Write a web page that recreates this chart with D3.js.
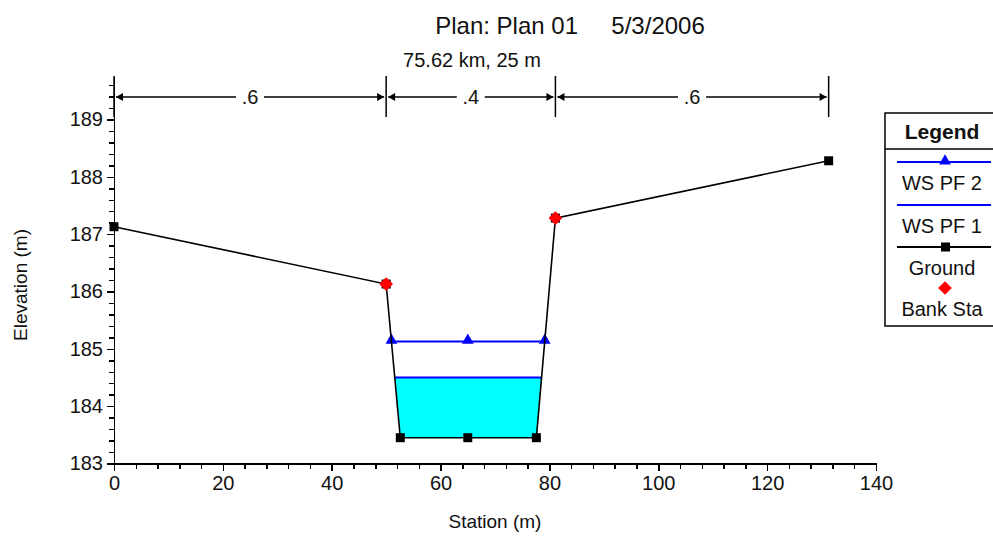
<!DOCTYPE html>
<meta charset="utf-8">
<style>
 body { margin: 0; background: #fff; }
 svg { display: block; font-family: "Liberation Sans", Arial, sans-serif; }
 .axis path, .axis line { fill: none; stroke: #000; stroke-width: 1.5; shape-rendering: crispEdges; }
 .axis text { font-size: 20px; fill: #111; }
 .axis-label { font-size: 19px; fill: #111; }
 .leg text { font-size: 20px; fill: #111; }
</style>
<body>
<svg width="993" height="541"></svg>
<script src="https://d3js.org/d3.v7.min.js"></script>
<script>

 // ground profile
 var groundSta  = [0, 50, 52.6, 65, 77.6, 81.1, 131.3];
 var groundElev = [187.13, 186.13, 183.45, 183.45, 183.45, 187.28, 188.28];
 var bankSta    = [50, 81.1];
 // water surfaces
 var wsNames = ["WS PF 2", "WS PF 1"];
 var wsElev  = [185.13, 184.50];
 var wsMarkSta = [65];
 // reach lengths shown above plot
 var reachLabels = [".6", ".4", ".6"];
 var xTicks = [0, 20, 40, 60, 80, 100, 120, 140];
 var yTicks = [183, 184, 185, 186, 187, 188, 189];

 var svg = d3.select("svg");

 var x = d3.scaleLinear().domain([0, 140]).range([114, 876]);
 var y = d3.scaleLinear().domain([183, 189.75]).range([463.5, 76.5]);

 var ground = groundSta.map(function(s, i) { return {sta: s, elev: groundElev[i]}; });

 function groundAt(s) {
     for (var i = 0; i < ground.length - 1; i++) {
         var a = ground[i], b = ground[i + 1];
         if (s >= a.sta && s <= b.sta) return a.elev + (b.elev - a.elev) * (s - a.sta) / (b.sta - a.sta);
     }
 }
 // where a water surface crosses the channel walls
 function crossings(e) {
     var out = [];
     for (var i = 0; i < ground.length - 1; i++) {
         var a = ground[i], b = ground[i + 1];
         if ((a.elev - e) * (b.elev - e) < 0) {
             out.push(a.sta + (b.sta - a.sta) * (e - a.elev) / (b.elev - a.elev));
         }
     }
     return out;
 }

 // axes
 var minorX = d3.range(0, 141, 4).filter(function(v) { return v % 20 != 0; });
 var minorY = d3.range(0, 34).map(function(i) { return 183 + i * 0.2; })
                .filter(function(v) { return Math.abs(v - Math.round(v)) > 0.01; });

 svg.append("g").attr("class", "axis")
    .attr("transform", "translate(0," + y(183) + ")")
    .call(d3.axisBottom(x).tickValues(minorX).tickSize(5).tickSizeOuter(0).tickFormat(""));
 svg.append("g").attr("class", "axis")
    .attr("transform", "translate(0," + y(183) + ")")
    .call(d3.axisBottom(x).tickValues(xTicks).tickSize(7).tickSizeOuter(0).tickPadding(5).tickFormat(d3.format("d")));
 svg.append("g").attr("class", "axis")
    .attr("transform", "translate(" + x(0) + ",0)")
    .call(d3.axisLeft(y).tickValues(minorY).tickSize(5).tickSizeOuter(0).tickFormat(""));
 svg.append("g").attr("class", "axis")
    .attr("transform", "translate(" + x(0) + ",0)")
    .call(d3.axisLeft(y).tickValues(yTicks).tickSize(7).tickSizeOuter(0).tickPadding(4).tickFormat(d3.format("d")));

 svg.append("text").attr("class", "axis-label")
    .attr("x", (x(0) + x(140)) / 2).attr("y", 528)
    .attr("text-anchor", "middle").text("Station (m)");
 svg.append("text").attr("class", "axis-label")
    .attr("transform", "translate(27,285) rotate(-90)")
    .attr("text-anchor", "middle").text("Elevation (m)");

 // titles
 svg.append("text").attr("x", 570).attr("y", 34).attr("text-anchor", "middle")
    .style("font-size", "24px").style("fill", "#111").attr("xml:space", "preserve")
    .text("Plan: Plan 01     5/3/2006");
 svg.append("text").attr("x", 472).attr("y", 67).attr("text-anchor", "middle")
    .style("font-size", "20px").style("fill", "#111")
    .text("75.62 km, 25 m");

 // reach length dimension lines
 var bars = [0, bankSta[0], bankSta[1], groundSta[groundSta.length - 1]];
 var dimY = 97;
 var dim = svg.append("g");
 bars.forEach(function(s) {
     dim.append("line").attr("x1", x(s)).attr("x2", x(s)).attr("y1", 76).attr("y2", 117)
        .style("stroke", "#000").style("stroke-width", 1.5);
 });
 reachLabels.forEach(function(lab, i) {
     var x1 = x(bars[i]) + 2, x2 = x(bars[i + 1]) - 2, mid = (x1 + x2) / 2;
     dim.append("line").attr("x1", x1).attr("x2", mid - 14).attr("y1", dimY).attr("y2", dimY)
        .style("stroke", "#000").style("stroke-width", 1.5);
     dim.append("line").attr("x1", mid + 14).attr("x2", x2).attr("y1", dimY).attr("y2", dimY)
        .style("stroke", "#000").style("stroke-width", 1.5);
     dim.append("path").attr("d", "M" + x1 + "," + dimY + "l7,-4l0,8z").style("fill", "#000");
     dim.append("path").attr("d", "M" + x2 + "," + dimY + "l-7,-4l0,8z").style("fill", "#000");
     dim.append("text").attr("x", mid).attr("y", dimY + 7).attr("text-anchor", "middle")
        .style("font-size", "20px").style("fill", "#111").text(lab);
 });

 // water fill below WS PF 1
 var c1 = crossings(wsElev[1]);
 var fillPts = [[c1[0], wsElev[1]]];
 ground.forEach(function(p) { if (p.sta > c1[0] && p.sta < c1[1]) fillPts.push([p.sta, p.elev]); });
 fillPts.push([c1[1], wsElev[1]]);
 svg.append("path")
    .attr("d", d3.line().x(function(d) { return x(d[0]); }).y(function(d) { return y(d[1]); })(fillPts) + "Z")
    .style("fill", "#00ffff");

 // water surface lines
 wsElev.forEach(function(e, i) {
     var c = crossings(e);
     svg.append("line").attr("x1", x(c[0])).attr("x2", x(c[1])).attr("y1", y(e)).attr("y2", y(e))
        .style("stroke", "#0000ff").style("stroke-width", 2);
     if (i == 0) {
         var marks = [c[0]].concat(wsMarkSta, [c[1]]);
         svg.selectAll(null).data(marks).enter().append("path")
            .attr("d", d3.symbol().type(d3.symbolTriangle).size(60))
            .attr("transform", function(d) { return "translate(" + x(d) + "," + (y(e) - 1) + ")"; })
            .style("fill", "#0000ff");
     }
 });

 // ground line
 svg.append("path")
    .datum(ground)
    .attr("d", d3.line().x(function(d) { return x(d.sta); }).y(function(d) { return y(d.elev); }))
    .style("fill", "none").style("stroke", "#000").style("stroke-width", 1.6);
 svg.selectAll(null).data(ground).enter().append("rect")
    .attr("x", function(d) { return x(d.sta) - 4.5; })
    .attr("y", function(d) { return y(d.elev) - 4.5; })
    .attr("width", 9).attr("height", 9).style("fill", "#000");

 // bank stations
 svg.selectAll(null).data(bankSta).enter().append("path")
    .attr("d", d3.symbol().type(d3.symbolDiamond2).size(120))
    .attr("transform", function(d) { return "translate(" + x(d) + "," + y(groundAt(d)) + ")"; })
    .style("fill", "#ff0000");

 // legend
 var leg = svg.append("g").attr("class", "leg");
 leg.append("rect").attr("x", 885).attr("y", 113).attr("width", 120).attr("height", 213)
    .style("fill", "#fff").style("stroke", "#000").style("stroke-width", 1.5);
 leg.append("line").attr("x1", 885).attr("x2", 1000).attr("y1", 149).attr("y2", 149)
    .style("stroke", "#000").style("stroke-width", 1.5);
 leg.append("text").attr("x", 942).attr("y", 139).attr("text-anchor", "middle")
    .style("font-weight", "bold").style("font-size", "21px").text("Legend");

 var items = [
     {name: wsNames[0], y: 162, stroke: "#0000ff", mark: "tri"},
     {name: wsNames[1], y: 205, stroke: "#0000ff", mark: null},
     {name: "Ground", y: 247, stroke: "#000", mark: "sq"},
     {name: "Bank Sta", y: 288, stroke: null, mark: "dia"}
 ];
 items.forEach(function(it) {
     if (it.stroke) {
         leg.append("line").attr("x1", 897).attr("x2", 991).attr("y1", it.y).attr("y2", it.y)
            .style("stroke", it.stroke).style("stroke-width", 2);
     }
     if (it.mark == "tri") {
         leg.append("path").attr("d", d3.symbol().type(d3.symbolTriangle).size(60))
            .attr("transform", "translate(945," + (it.y - 1) + ")").style("fill", "#0000ff");
     } else if (it.mark == "sq") {
         leg.append("rect").attr("x", 941).attr("y", it.y - 4.5).attr("width", 9).attr("height", 9)
            .style("fill", "#000");
     } else if (it.mark == "dia") {
         leg.append("path").attr("d", d3.symbol().type(d3.symbolDiamond2).size(120))
            .attr("transform", "translate(945," + it.y + ")").style("fill", "#ff0000");
     }
     leg.append("text").attr("x", 942).attr("y", it.y + 28).attr("text-anchor", "middle").text(it.name);
 });

</script>
</body>
